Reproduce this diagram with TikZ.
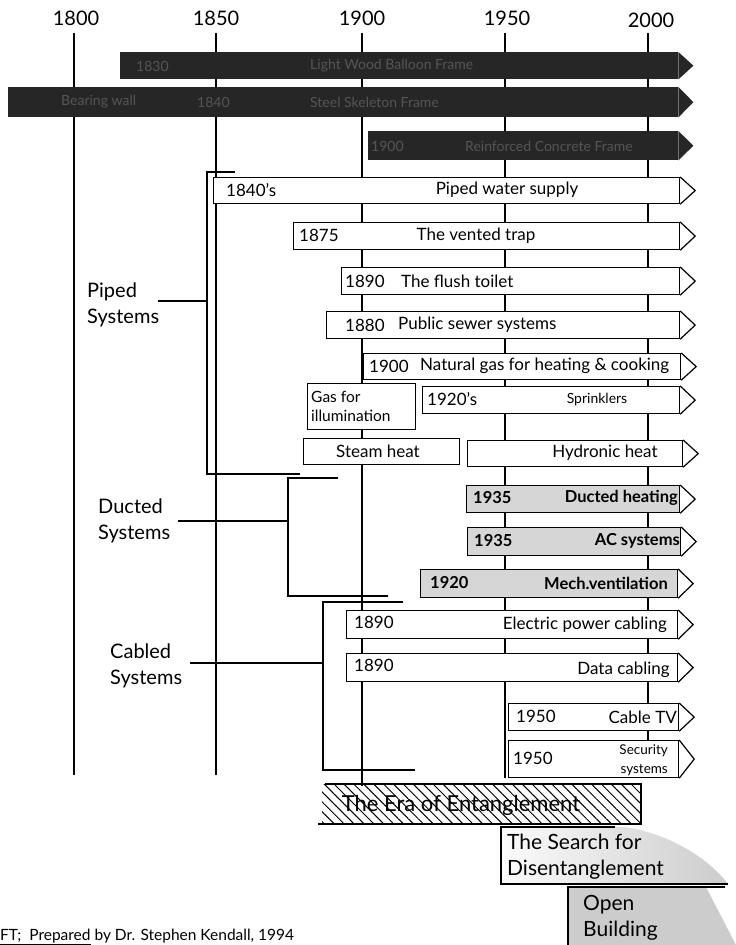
\documentclass[tikz,border=0pt]{standalone}
\usepackage{fontspec}
\setmainfont{Lato}
\usetikzlibrary{calc,patterns.meta}
\definecolor{darkbar}{HTML}{262626}
\definecolor{bartext}{HTML}{555555}
\tikzset{
  tl/.style={line width=1.9pt},
  br/.style={line width=1.3pt},
  wbox/.style={draw, line width=1.2pt, fill=white, inner sep=0pt, anchor=north west},
  gbox/.style={wbox, fill=gray!32},
  wtip/.style={draw, line width=1.2pt, fill=white, line join=miter},
  dbar/.style={fill=darkbar, inner sep=0pt, anchor=north west},
  yr/.style={font=\fontsize{20}{24}\selectfont, inner sep=0pt},
  bt/.style={font=\fontsize{17}{19}\selectfont, inner sep=0pt},
  btb/.style={font=\fontsize{16.5}{19}\selectfont\bfseries, inner sep=0pt},
  dt/.style={font=\fontsize{14}{16}\selectfont, text=bartext, inner sep=0pt, anchor=west},
  sys/.style={font=\fontsize{20}{26}\selectfont, align=left, inner sep=0pt, anchor=west},
  big/.style={font=\fontsize{21}{26}\selectfont, align=left, inner sep=0pt},
}
\newcommand\wbar[6]{%
  \node[#1, minimum width={#5-#3}, minimum height={#6-#4}] (#2) at (#3,#4) {};
  \path[wtip] (#2.north east) -- ($(#2.east)+(15,0)$) -- (#2.south east);}
\newcommand\dkbar[5]{%
  \node[dbar, minimum width={#4-#2}, minimum height={#5-#3}] (#1) at (#2,#3) {};
  \fill[darkbar] (#1.north east) -- ($(#1.east)+(15,0)$) -- (#1.south east) -- cycle;}
\begin{document}
\begin{tikzpicture}[x=1pt,y=-1pt]
\useasboundingbox (0,0) rectangle (736,945);

% year labels
\node[yr] (y1800) at (76,18) {1800};
\node[yr] (y1850) at (216,18) {1850};
\node[yr] (y1900) at (362,18) {1900};
\node[yr] (y1950) at (507,18) {1950};
\node[yr] (y2000) at (651,20) {2000};

% timeline lines
\coordinate (s1800) at (74,33);   \coordinate (e1800) at (74,775);
\coordinate (s1850) at (216,33);  \coordinate (e1850) at (216,775);
\coordinate (s1900) at (362,33);  \coordinate (e1900) at (362,786);
\coordinate (s1950) at (505,33);  \coordinate (e1950) at (505,778);
\coordinate (s2000) at (648,33);  \coordinate (e2000) at (648,778);
\draw[tl] (s1800) -- (e1800);
\draw[tl] (s1850) -- (e1850);
\draw[tl] (s1900) -- (e1900);
\draw[tl] (s1950) -- (e1950);
\draw[tl] (s2000) -- (e2000);

% dark structural bars
\dkbar{b1}{120}{52}{678}{79}
\dkbar{b2}{8}{87}{678}{117}
\dkbar{b3}{368}{131}{678}{160}
\node[dt] (b1y) at (136,66) {1830};
\node[dt] (b1t) at (310,66) {Light Wood Balloon Frame};
\node[dt] (b2a) at (61,102) {Bearing wall};
\node[dt] (b2y) at (197,102) {1840};
\node[dt] (b2t) at (310,102) {Steel Skeleton Frame};
\node[dt] (b3y) at (371,146) {1900};
\node[dt] (b3t) at (465,146) {Reinforced Concrete Frame};

% brackets
\coordinate (p1) at (235,172); \coordinate (p2) at (207,172);
\coordinate (p3) at (207,474); \coordinate (p4) at (300,474);
\coordinate (pt1) at (158,301); \coordinate (pt2) at (207,301);
\draw[br] (p1) -- (p2) -- (p3) -- (p4);
\draw[br] (pt1) -- (pt2);
\coordinate (d1) at (338,478); \coordinate (d2) at (288,478);
\coordinate (d3) at (288,596); \coordinate (d4) at (388,596);
\coordinate (dt1) at (178,521); \coordinate (dt2) at (288,521);
\draw[br] (d1) -- (d2) -- (d3) -- (d4);
\draw[br] (dt1) -- (dt2);
\coordinate (c1) at (403,602); \coordinate (c2) at (323,602);
\coordinate (c3) at (323,770); \coordinate (c4) at (415,770);
\coordinate (ct1) at (190,663); \coordinate (ct2) at (323,663);
\draw[br] (c1) -- (c2) -- (c3) -- (c4);
\draw[br] (ct1) -- (ct2);

\node[sys] (lpiped) at (87,305) {Piped\\Systems};
\node[sys] (lducted) at (98,521) {Ducted\\Systems};
\node[sys] (lcabled) at (110,666) {Cabled\\Systems};

% piped systems
\wbar{wbox}{pws}{213}{177}{679}{203}
\node[bt, anchor=west] at (226,190) {1840's};
\node[bt] at (507,190) {Piped water supply};
\wbar{wbox}{vt}{293}{222}{679}{249}
\node[bt, anchor=west] at (299,235) {1875};
\node[bt] at (476,236) {The vented trap};
\wbar{wbox}{ft}{341}{267}{679}{294}
\node[bt, anchor=west] at (345,281) {1890};
\node[bt, anchor=west] at (401,281) {The flush toilet};
\wbar{wbox}{ps}{326}{311}{679}{338}
\node[bt, anchor=west] at (345,325) {1880};
\node[bt, anchor=west] at (398,325) {Public sewer systems};
\wbar{wbox}{ng}{363}{353}{680}{379}
\node[bt, anchor=west] at (369,366) {1900};
\node[bt, anchor=west] at (420,366) {Natural gas for heating \& cooking};
\node[wbox, minimum width=108, minimum height=46] (gi) at (307,383) {};
\node[font=\fontsize{15.5}{19}\selectfont, align=left, inner sep=0pt, anchor=west] at (311,406) {Gas for\\illumination};
\wbar{wbox}{sp}{422}{386}{679}{413}
\node[bt, anchor=west] at (427,399) {1920's};
\node[font=\fontsize{14}{16}\selectfont, inner sep=0pt] at (597,400) {Sprinklers};
\node[wbox, minimum width=156, minimum height=26] (sh) at (303,438) {};
\node[bt] at (378,451) {Steam heat};
\wbar{wbox}{hh}{467}{440}{682}{466}
\node[bt] at (605,453) {Hydronic heat};

% ducted systems
\wbar{gbox}{dh}{466}{485}{679}{512}
\node[btb, anchor=west] at (473,498) {1935};
\node[btb, anchor=east] at (678,498) {Ducted heating};
\wbar{gbox}{ac}{467}{527}{680}{555}
\node[btb, anchor=west] at (474,541) {1935};
\node[btb, anchor=east] at (680,541) {AC systems};
\wbar{gbox}{mv}{420}{569}{677}{597}
\node[btb, anchor=west] at (430,583) {1920};
\node[btb, anchor=east] at (668,583) {Mech.ventilation};

% cabled systems
\wbar{wbox}{ep}{346}{610}{677}{638}
\node[bt, anchor=west] at (354,622) {1890};
\node[bt, anchor=east] at (667,625) {Electric power cabling};
\wbar{wbox}{dc}{346}{653}{677}{681}
\node[bt, anchor=west] at (354,665) {1890};
\node[bt, anchor=east] at (670,670) {Data cabling};
\wbar{wbox}{tv}{508}{703}{678}{730}
\node[bt, anchor=west] at (516,716) {1950};
\node[bt, anchor=east] at (677,717) {Cable TV};
\wbar{wbox}{ss}{508}{740}{678}{777}
\node[bt, anchor=west] at (513,758) {1950};
\node[font=\fontsize{13.5}{15}\selectfont, inner sep=0pt, anchor=east] at (668,751) {Security};
\node[font=\fontsize{13.5}{15}\selectfont, inner sep=0pt, anchor=east] at (668,770) {systems};

% era of entanglement
\path[pattern={Lines[angle=-45,distance=7pt,line width=1pt]}] (322,784) rectangle (641,824);
\coordinate (h1) at (325,784); \coordinate (h2) at (641,784);
\coordinate (h3) at (641,824); \coordinate (h4) at (318,824);
\draw[line width=1.3pt] (h1) -- (h2) -- (h3) -- (h4);
\node[font=\fontsize{22}{26}\selectfont, inner sep=0pt] (era) at (461,805) {The Era of Entanglement};

% search for disentanglement
\shade[left color=gray!3, right color=gray!40] (501,827) -- (625,827) .. controls (670,834) and (708,858) .. (728,884) -- (501,884) -- cycle;
\coordinate (sd1) at (615,827); \coordinate (sd2) at (501,827);
\coordinate (sd3) at (501,884); \coordinate (sd4) at (728,884);
\draw[line width=1.2pt] (sd1) -- (sd2) -- (sd3) -- (sd4);
\node[big, anchor=west] (search) at (507,857) {The Search for\\Disentanglement};

% open building
\fill[gray!40] (568,887) -- (706,887) -- (736,945) -- (568,945) -- cycle;
\coordinate (ob1) at (725,887); \coordinate (ob2) at (568,887); \coordinate (ob3) at (568,945);
\draw[line width=1.2pt] (ob1) -- (ob2) -- (ob3);
\node[big, anchor=west] (open) at (583,918) {Open\\Building};

% footer
\node[font=\fontsize{15.5}{17}\selectfont, inner sep=0pt, anchor=west] (foot) at (0,937) {\underline{FT;\ \ Prepared} by Dr. Stephen Kendall, 1994};
\end{tikzpicture}
\end{document}
